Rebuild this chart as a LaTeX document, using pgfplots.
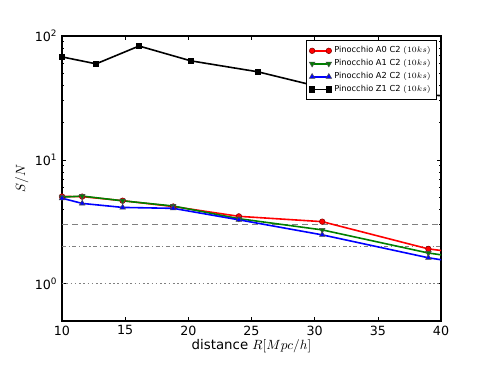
\documentclass[border=0pt]{standalone}
\usepackage{fontspec}
\setmainfont{DejaVu Sans}
\usepackage{pgfplots}
\pgfplotsset{compat=1.18}
\definecolor{mplgreen}{rgb}{0,0.5,0}
\begin{document}
\begin{tikzpicture}
\path[use as bounding box] (-46.5pt,-35.25pt) rectangle (321.75pt,240.75pt);
\begin{axis}[
  at={(0,0)}, anchor=south west, scale only axis,
  width=284.25pt, height=213.75pt,
  xmin=10, xmax=40, ymode=log, ymin=0.5, ymax=100,
  xtick={10,15,...,40},
  ytick={1,10,100},
  yticklabels={10\textsuperscript{0},10\textsuperscript{1},10\textsuperscript{2}},
  /pgf/number format/assume math mode=true,
  tick label style={font=\fontsize{9.5}{11}\selectfont},
  tick align=inside,
  major tick length=3pt, minor tick length=1.6pt,
  axis line style={line width=0.9pt},
  every tick/.style={black, line width=0.5pt},
  xlabel={distance $R[Mpc/h]$},
  ylabel={$S/N$},
  label style={font=\fontsize{10}{12}\selectfont},
  xlabel style={yshift=4pt},
  ylabel style={yshift=-2pt},
  legend style={at={(0.99,0.985)}, anchor=north east, font=\fontsize{6.2}{7.5}\selectfont,
    draw=black, fill=white, line width=0.6pt, row sep=-0.5pt, inner sep=2.5pt,
    cells={anchor=west}},
  legend image code/.code={\draw[#1, line width=1.2pt, mark indices={1,3}] plot coordinates {(0cm,0cm) (0.22cm,0cm) (0.44cm,0cm)};},
  every axis plot/.append style={line width=1.2pt},
  clip=true,
]
\addplot[gray, line width=1.1pt, dash pattern=on 4.5pt off 3pt, forget plot] coordinates {(10,3) (40,3)};
\addplot[gray, dash pattern=on 3pt off 2pt on 0.8pt off 2pt, line width=0.9pt, forget plot] coordinates {(10,2) (40,2)};
\addplot[gray, dotted, line width=0.9pt, forget plot] coordinates {(10,1) (40,1)};

\addplot[red, mark=*, mark size=2.1pt, mark indices={1,2,3,4,5,6,7}, mark options={fill=red, draw=red!50!black, line width=0.4pt}] coordinates {
(10,5.06) (11.6,5.05) (14.8,4.68) (18.8,4.2) (24,3.5) (30.6,3.17) (39,1.91) (42,1.75)};
\addplot[mplgreen, mark=triangle*, mark size=2.4pt, mark indices={1,2,3,4,5,6,7}, mark options={fill=mplgreen, draw=black!70, rotate=180, line width=0.4pt}] coordinates {
(10,5.0) (11.6,5.1) (14.8,4.67) (18.8,4.24) (24,3.35) (30.6,2.72) (39,1.77) (42,1.6)};
\addplot[blue, mark=triangle*, mark size=2.4pt, mark indices={1,2,3,4,5,6,7}, mark options={fill=blue, draw=black!70, line width=0.4pt}] coordinates {
(10,4.9) (11.6,4.45) (14.8,4.13) (18.8,4.06) (24,3.28) (30.6,2.48) (39,1.62) (42,1.45)};
\addplot[black, mark=square*, mark size=1.8pt, mark indices={1,2,3,4,5,6}, mark options={fill=black}] coordinates {
(10,67.8) (12.7,59.6) (16.1,83) (20.2,63) (25.5,51.4) (31,37.5) (40,33)};
\legend{Pinocchio A0 C2 $(10ks)$,Pinocchio A1 C2 $(10ks)$,Pinocchio A2 C2 $(10ks)$,Pinocchio Z1 C2 $(10ks)$}
\end{axis}
\end{tikzpicture}
\end{document}
